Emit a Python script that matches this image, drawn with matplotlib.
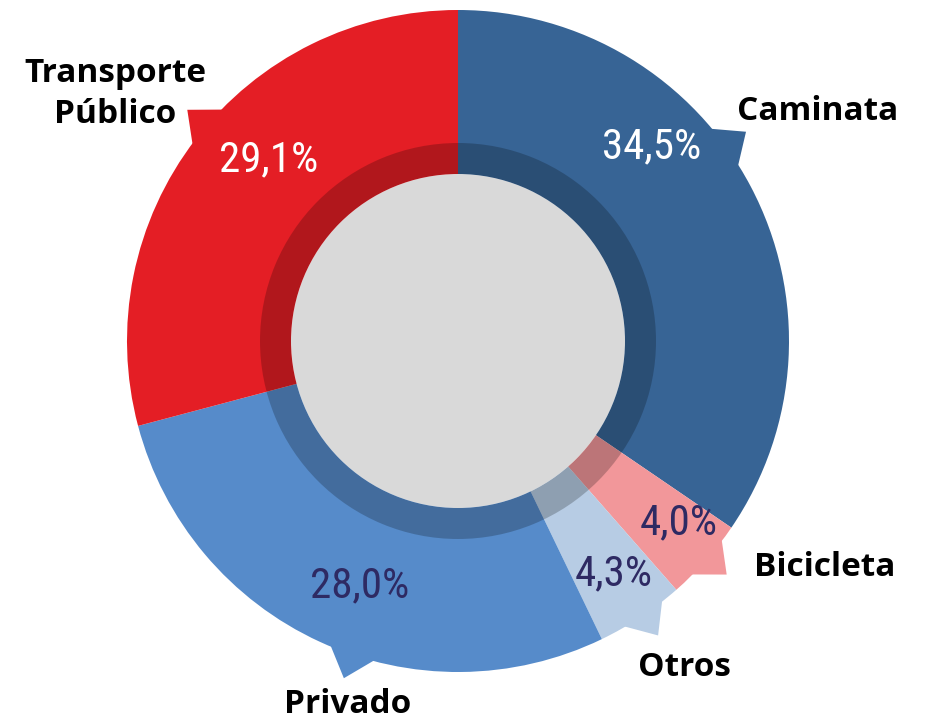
import matplotlib
matplotlib.use("Agg")
import matplotlib.pyplot as plt
import numpy as np
from matplotlib import font_manager
from matplotlib.patches import Circle, Wedge, Polygon

# data (clockwise from 12 o'clock)
modes = ["Caminata", "Bicicleta", "Otros", "Privado", "Transporte\nPúblico"]
shares = [34.5, 4.0, 4.3, 28.0, 29.1]
share_labels = ["34,5%", "4,0%", "4,3%", "28,0%", "29,1%"]

colors = ["#376495", "#f2979a", "#b7cce4", "#568bca", "#e41e25"]
pct_colors = ["white", "#2e2a63", "#2e2a63", "#2e2a63", "white"]

# layout in pixel space (y measured from top of the image)
W, H = 928, 722
cx, cy = 458, 341
r_out, r_ring, r_hole = 331, 198, 167
tail_angles = [36.0, -41.0, -55.8, -108.7, 139.5]
tail_half, tail_tip = 4.2, 356
pct_pos = [(652, 147), (679, 523), (614, 574), (360, 586), (269, 160)]
name_pos = [(818, 120), (825, 576), (684, 676), (348, 713), (115, 123)]

# a narrow face for the percentages, whatever is installed
entries = font_manager.fontManager.ttflist
names = {f.name for f in entries}
pct_font = dict(family="DejaVu Sans", fontsize=27)
for cand in ["Roboto Condensed", "Liberation Sans Narrow"]:
    if cand in names:
        pct_font = dict(family=cand, fontsize=31)
        break
else:
    if any(f.name == "DejaVu Sans" and f.stretch == "condensed" for f in entries):
        pct_font = dict(family="DejaVu Sans", fontstretch="condensed", fontsize=29)


def px(x, y):
    return x, H - y


fig = plt.figure(figsize=(W / 100, H / 100), dpi=100)
ax = fig.add_axes([0, 0, 1, 1])

centre = px(cx, cy)
wedges, _ = ax.pie(shares, colors=colors, startangle=90, counterclock=False,
                   radius=r_out, center=centre,
                   wedgeprops=dict(width=r_out - r_hole + 2, linewidth=0))

# callout tails
for ang, col in zip(tail_angles, colors):
    a = np.radians(np.linspace(ang - tail_half, ang + tail_half, 12))
    pts = [(centre[0] + (r_out - 2) * np.cos(t), centre[1] + (r_out - 2) * np.sin(t)) for t in a]
    tip = np.radians(ang)
    pts.append((centre[0] + tail_tip * np.cos(tip), centre[1] + tail_tip * np.sin(tip)))
    ax.add_patch(Polygon(pts, closed=True, facecolor=col, edgecolor="none", zorder=1))

ax.add_patch(Wedge(centre, r_ring, 0, 360, width=r_ring - r_hole,
                   facecolor="black", alpha=0.22, edgecolor="none", zorder=2))
ax.add_patch(Circle(centre, r_hole, facecolor="#d9d9d9", edgecolor="none", zorder=3))

for lab, (x, y), c in zip(share_labels, pct_pos, pct_colors):
    ax.text(*px(x, y), lab, ha="center", va="center", color=c, zorder=4, **pct_font)

for name, (x, y) in zip(modes, name_pos):
    ax.text(*px(x, y), name, ha="center", va="baseline", color="black",
            fontsize=24, fontweight="bold", family="Open Sans",
            linespacing=1.34, zorder=4)

ax.set_xlim(0, W)
ax.set_ylim(0, H)
ax.set_aspect("equal")
ax.axis("off")

fig.savefig("out.png", dpi=100)
plt.close(fig)
